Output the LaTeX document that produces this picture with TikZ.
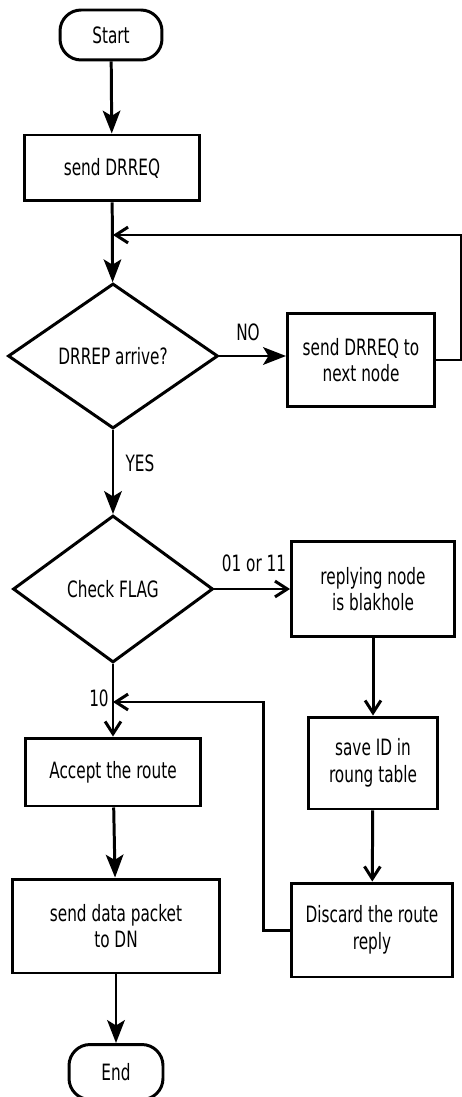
\documentclass[tikz,border=0pt]{standalone}
\usepackage{fontspec}
\setmainfont{DejaVu Sans}[FakeStretch=0.68]
\usetikzlibrary{shapes.geometric,arrows.meta}

\begin{document}
\begin{tikzpicture}[x=0.02cm,y=-0.02cm,line width=1.7pt,
  font=\fontsize{12.8}{15.2}\selectfont,
  box/.style={draw,align=center,inner sep=2pt},
  term/.style={draw,rounded corners=12pt,minimum width=2.04cm,minimum height=1cm},
  test/.style={draw,diamond,inner sep=0pt},
  fillarrow/.style={-{Stealth[length=13pt,width=10pt,inset=3pt]}},
  openarrow/.style={-{Straight Barb[length=7pt,width=9pt]}}]
 \useasboundingbox (0,0) rectangle (462,1097);
 % main column
 \node[term] (start) at (111,35) {Start};
 \node[box,minimum width=3.5cm,minimum height=1.32cm] (send) at (112,168) {send DRREQ};
 \node[test,minimum width=4.2cm,minimum height=2.9cm] (arrive) at (113,356) {DRREP arrive?};
 \node[test,minimum width=4cm,minimum height=2.94cm] (flag) at (113,589) {Check FLAG};
 \node[box,minimum width=3.5cm,minimum height=1.36cm] (accept) at (113,772) {Accept the route};
 \node[box,minimum width=4.16cm,minimum height=1.88cm] (data) at (116,926) {send data packet\\to DN};
 \node[term,minimum width=1.88cm,minimum height=1.1cm] (stop) at (116,1072) {End};
 % right column
 \node[box,minimum width=2.94cm,minimum height=1.86cm] (next) at (361,360) {send DRREQ to\\next node};
 \node[box,minimum width=3.26cm,minimum height=1.9cm] (black) at (373,589) {replying node\\is blakhole};
 \node[box,minimum width=2.58cm,minimum height=1.84cm] (save) at (373,763) {save ID in\\roung table};
 \node[box,minimum width=3.24cm,minimum height=1.88cm] (discard) at (372,930) {Discard the route\\reply};
 % branch labels
 \node (no) at (248,332) {NO};
 \node (yes) at (140,463) {YES};
 \node (bad) at (254,563) {01 or 11};
 \node (good) at (99,698) {10};
 \coordinate (ret1) at (113,235);
 \coordinate (ret2) at (113,702);

 \draw[fillarrow] (start) -- (send);
 \draw[fillarrow] (send) -- (arrive);
 \draw[fillarrow] (arrive) -- (arrive -| next.west);
 \draw[fillarrow] (arrive) -- (flag);
 \draw[openarrow] (flag) -- (flag -| black.west);
 \draw[openarrow] (flag) -- (accept);
 \draw[fillarrow] (accept) -- (data);
 \draw[fillarrow] (data) -- (stop);
 \draw[openarrow] (black) -- (save);
 \draw[openarrow] (save) -- (discard);
 \draw[openarrow] (next.east) -- ++(26,0) |- (ret1);
 \draw[openarrow] (discard.west) -- ++(-26,0) |- (ret2);
\end{tikzpicture}
\end{document}
